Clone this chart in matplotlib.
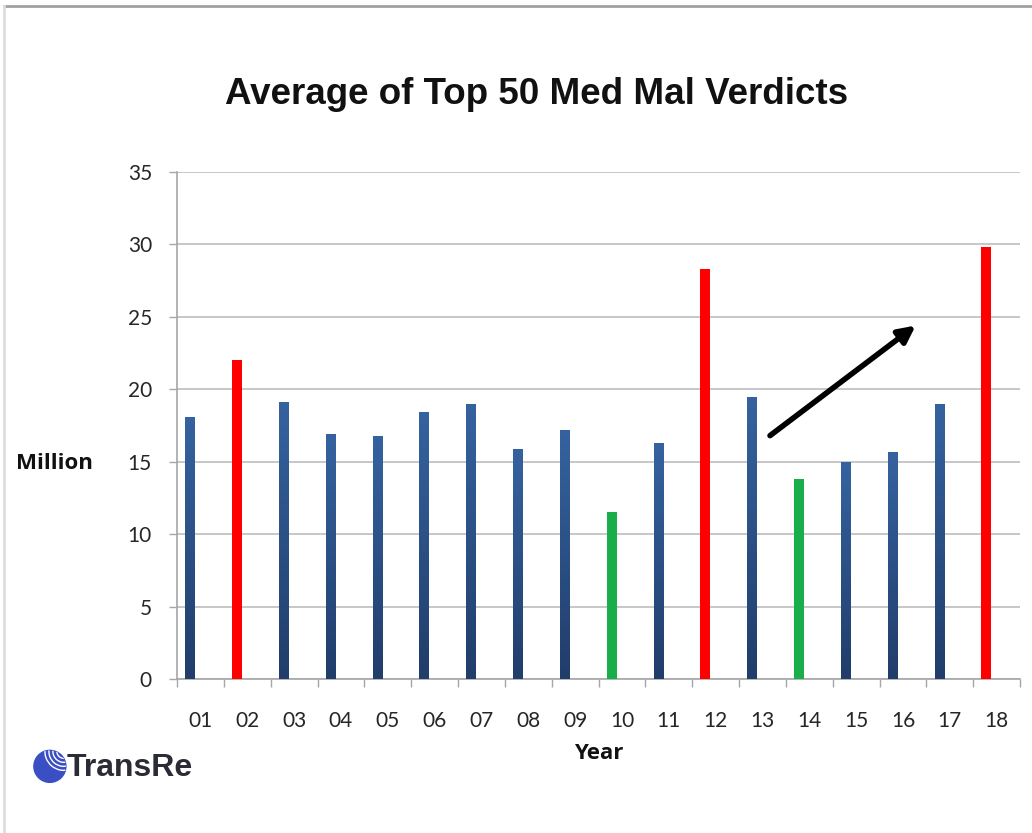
import numpy as np
import matplotlib.pyplot as plt
from matplotlib.colors import LinearSegmentedColormap
from matplotlib.patches import Circle, Arc
from matplotlib.lines import Line2D

# Average of top 50 med mal verdicts, $ million
years = ['01', '02', '03', '04', '05', '06', '07', '08', '09',
         '10', '11', '12', '13', '14', '15', '16', '17', '18']
verdicts = [18.1, 22.0, 19.1, 16.9, 16.8, 18.4, 19.0, 15.9, 17.2,
            11.5, 16.3, 28.3, 19.5, 13.8, 15.0, 15.7, 19.0, 29.8]
# 'up' = spike year, 'down' = low year, '' = normal
flags = ['', 'up', '', '', '', '', '', '', '',
         'down', '', 'up', '', 'down', '', '', '', 'up']

flag_colors = {'up': '#ff0000', 'down': '#1aae4a'}
blue_grad = LinearSegmentedColormap.from_list('bar', ['#213d6a', '#3563a0'])

# trend arrow (data coords)
arrow_tail = (12.16, 16.8)
arrow_head = (15.27, 24.4)

fig = plt.figure(figsize=(10.32, 8.33), dpi=100)
ax = fig.add_axes([0.1715, 0.1849, 0.817, 0.6086])

x = np.arange(len(years))
bar_off = -0.22
bars = ax.bar(x + bar_off, verdicts, width=0.21, zorder=3,
              color=[flag_colors.get(f, '#2f568f') for f in flags])

# vertical shading on the plain bars
grad = np.linspace(0, 1, 256).reshape(-1, 1)
for b, f in zip(bars, flags):
    if f:
        continue
    b.set_alpha(0)
    x0, w, h = b.get_x(), b.get_width(), b.get_height()
    im = ax.imshow(grad, cmap=blue_grad, origin='lower', aspect='auto',
                   extent=[x0, x0 + w, 0, h], zorder=3)
    im.set_clip_path(b)

ax.set_xlim(-0.5, len(years) - 0.5)
ax.set_ylim(0, 35)
ax.set_yticks(range(0, 36, 5))
ax.set_xticks(x)
ax.set_xticklabels(years)
ax.set_xticks(np.arange(-0.5, len(years)), minor=True)
ax.tick_params(axis='x', which='major', length=0, pad=23)
ax.tick_params(axis='x', which='minor', length=6, color='#a6a6a6', width=1)
ax.tick_params(axis='y', length=6, color='#a6a6a6', width=1, pad=12)
for lab in ax.get_xticklabels() + ax.get_yticklabels():
    lab.set_fontfamily('Lato')
    lab.set_fontsize(15)
    lab.set_color('#262626')

ax.grid(axis='y', color='#bdbdbd', linewidth=1.2, zorder=0)
for s in ['top', 'right']:
    ax.spines[s].set_visible(False)
for s in ['left', 'bottom']:
    ax.spines[s].set_color('#a6a6a6')
    ax.spines[s].set_linewidth(1.2)

ax.annotate('', xy=arrow_head, xytext=arrow_tail, zorder=5,
            arrowprops=dict(arrowstyle='-|>,head_length=1.0,head_width=0.5',
                            color='black', lw=4.0, shrinkA=0, shrinkB=0))

fig.text(0.52, 0.887, 'Average of Top 50 Med Mal Verdicts', ha='center',
         va='center', fontsize=26.5, fontweight='bold',
         family='Liberation Sans', color='#111111')
fig.text(0.053, 0.444, 'Million', ha='center', va='center', fontsize=16,
         fontweight='bold', family='Open Sans', color='#111111')
fig.text(0.58, 0.095, 'Year', ha='center', va='center', fontsize=16,
         fontweight='bold', family='Open Sans', color='#111111')

# TransRe logo
lax = fig.add_axes([0.02, 0.05, 0.2, 0.06])
lax.set_xlim(0, 200)
lax.set_ylim(0, 50)
lax.set_aspect('equal')
lax.axis('off')
globe = Circle((26, 25), 16, color='#3a4fc4')
lax.add_patch(globe)
for r in [14, 22, 30, 38]:
    a = Arc((40, 40), r, r, theta1=170, theta2=290, color='white', lw=1.0)
    lax.add_patch(a)
    a.set_clip_path(globe)
lax.text(43, 23, 'TransRe', fontsize=23, fontweight='bold',
         family='Liberation Sans', color='#2b2b36', va='center', ha='left')

# screenshot frame
fig.add_artist(Line2D([0.004, 1], [0.993, 0.993], color='#a0a0a0', lw=2))
fig.add_artist(Line2D([0.004, 0.004], [0, 0.993], color='#dddddd', lw=2))

fig.savefig('out.png', dpi=100)
